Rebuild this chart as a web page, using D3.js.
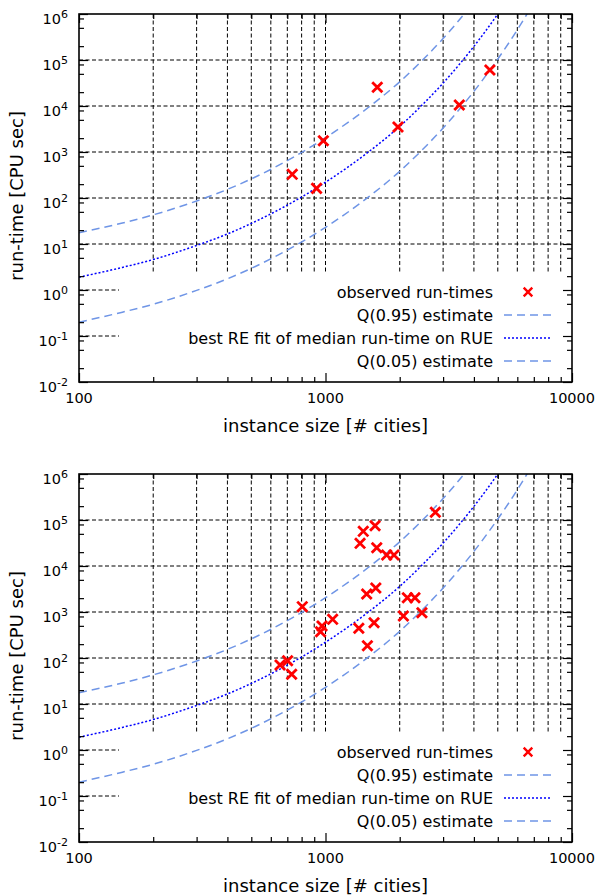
<!DOCTYPE html>
<html>
<head>
<meta charset="utf-8">
<script src="https://cdn.jsdelivr.net/npm/d3@7"></script>
<style>
  body { margin: 0; background: #fff; }
  text { font-family: "DejaVu Sans", Verdana, sans-serif; fill: #000; }
</style>
</head>
<body>
<div id="chart"></div>
<script>
// axis ticks
const xMajor = [100, 1000, 10000];
const xMinor = [200, 300, 400, 500, 600, 700, 800, 900, 2000, 3000, 4000, 5000, 6000, 7000, 8000, 9000];
const yExp = [-2, -1, 0, 1, 2, 3, 4, 5, 6];
const yMinorFactors = [2, 5, 8];

// fitted curves
const fitN = [100, 150, 200, 300, 400, 500, 700, 1000, 1500, 2000, 2500, 3000, 4000, 5000, 6000, 7000];
const medianVals = [1.9, 3.1, 4.6, 9.3, 16.5, 28, 70, 220, 1020, 3600, 11300, 31500, 198000, 1.0e6, 4.3e6, 1.7e7];
const q95Vals = [17.6, 28.6, 43, 86, 154, 260, 650, 2050, 9500, 33500, 105000, 293000, 1.84e6, 9.3e6, 4.0e7, 1.6e8];
const q05Vals = [0.2, 0.33, 0.49, 0.98, 1.75, 2.95, 7.4, 23, 107, 380, 1190, 3320, 20800, 105000, 453000, 1.76e6];

// observed run-times, top panel
const obs1N = [733, 920, 980, 1622, 1968, 3490, 4645];
const obs1T = [327, 162, 1760, 25500, 3490, 10500, 60700];

// observed run-times, bottom panel
const obs2N = [654, 702, 729, 805, 955, 968, 1069, 1365, 1381, 1423, 1469, 1479, 1574, 1589, 1600, 1614, 1771, 1896, 2070, 2148, 2306, 2461, 2790];
const obs2T = [70.5, 87.3, 44.2, 1306, 373, 497, 693, 443, 31100, 56700, 2460, 185, 585, 75200, 3330, 25000, 17300, 17300, 818, 2046, 2046, 966, 146900];

const legendLabels = ["observed run-times", "Q(0.95) estimate", "best RE fit of median run-time on RUE", "Q(0.05) estimate"];

const width = 601, height = 896;
const left = 79, plotW = 493, plotH = 368;
const lightBlue = "#6f95e6";

const svg = d3.select("#chart").append("svg")
    .attr("width", width)
    .attr("height", height);

function drawPanel(idx, top, obsN, obsT) {
  const g = svg.append("g").attr("transform", "translate(" + left + "," + top + ")");

  const x = d3.scaleLog().domain([100, 10000]).range([0, plotW]);
  const y = d3.scaleLog().domain([1e-2, 1e6]).range([plotH, 0]);

  // grid
  let grid = g.append("g")
      .attr("stroke", "#000")
      .attr("stroke-width", 1)
      .attr("stroke-dasharray", "4,2.5");
  grid.selectAll(".vg")
      .data(xMinor)
      .enter().append("line")
      .attr("x1", d => x(d)).attr("x2", d => x(d))
      .attr("y1", 0).attr("y2", plotH);
  grid.selectAll(".vg2")
      .data([1000])
      .enter().append("line")
      .attr("x1", d => x(d)).attr("x2", d => x(d))
      .attr("y1", 0).attr("y2", plotH);
  grid.selectAll(".hg")
      .data(yExp.slice(1, -1))
      .enter().append("line")
      .attr("x1", 0).attr("x2", plotW)
      .attr("y1", d => y(Math.pow(10, d))).attr("y2", d => y(Math.pow(10, d)));

  // opaque key box
  const keyX = 40, keyY = 258;
  g.append("rect")
      .attr("x", keyX).attr("y", keyY)
      .attr("width", plotW - keyX).attr("height", plotH - keyY)
      .attr("fill", "#fff");

  // curves
  g.append("clipPath").attr("id", "clip" + idx)
      .append("rect").attr("width", plotW).attr("height", plotH);

  const line = d3.line()
      .x(d => x(d[0]))
      .y(d => y(d[1]))
      .curve(d3.curveMonotoneX);

  const curves = [
    {vals: q95Vals, color: lightBlue, dash: "8,5"},
    {vals: medianVals, color: "#0000ff", dash: "2,2"},
    {vals: q05Vals, color: lightBlue, dash: "8,5"}
  ];
  g.append("g").attr("clip-path", "url(#clip" + idx + ")")
      .selectAll("path")
      .data(curves)
      .enter().append("path")
      .attr("d", c => line(fitN.map((n, i) => [n, c.vals[i]])))
      .attr("fill", "none")
      .attr("stroke", c => c.color)
      .attr("stroke-width", 1.5)
      .attr("stroke-dasharray", c => c.dash);

  // observed points
  const cross = d3.symbol().type(d3.symbolTimes).size(68);
  g.append("g").selectAll("path")
      .data(obsN.map((n, i) => [n, obsT[i]]))
      .enter().append("path")
      .attr("transform", d => "translate(" + x(d[0]) + "," + y(d[1]) + ")")
      .attr("d", cross)
      .attr("fill", "none")
      .attr("stroke", "#ff0000")
      .attr("stroke-width", 2.8);

  // legend
  const leg = g.append("g");
  const rowY = i => 278 + i * 23;
  leg.selectAll("text")
      .data(legendLabels)
      .enter().append("text")
      .attr("x", 414)
      .attr("y", (d, i) => rowY(i) + 5.5)
      .attr("text-anchor", "end")
      .style("font-size", "16px")
      .text(d => d);
  leg.append("path")
      .attr("transform", "translate(449," + rowY(0) + ")")
      .attr("d", d3.symbol().type(d3.symbolTimes).size(50))
      .attr("fill", "none")
      .attr("stroke", "#ff0000")
      .attr("stroke-width", 2.4);
  [[1, lightBlue, "8,5"], [2, "#0000ff", "2,2"], [3, lightBlue, "8,5"]].forEach(s => {
    leg.append("line")
        .attr("x1", 425).attr("x2", 473)
        .attr("y1", rowY(s[0])).attr("y2", rowY(s[0]))
        .attr("stroke", s[1])
        .attr("stroke-width", 1.5)
        .attr("stroke-dasharray", s[2]);
  });

  // ticks, inward on all four sides
  const yMinor = [];
  yExp.slice(0, -1).forEach(e => yMinorFactors.forEach(f => yMinor.push(f * Math.pow(10, e))));
  const yMaj = yExp.map(e => Math.pow(10, e));

  const tickAxes = [
    [d3.axisBottom(x).tickValues(xMajor).tickSize(-9), plotH],
    [d3.axisBottom(x).tickValues(xMinor).tickSize(-5), plotH],
    [d3.axisTop(x).tickValues(xMajor).tickSize(-9), 0],
    [d3.axisTop(x).tickValues(xMinor).tickSize(-5), 0]
  ];
  tickAxes.forEach(a => {
    g.append("g")
        .attr("transform", "translate(0," + a[1] + ")")
        .call(a[0].tickFormat("").tickSizeOuter(0))
        .call(s => s.select(".domain").remove());
  });
  const yAxes = [
    [d3.axisLeft(y).tickValues(yMaj).tickSize(-9), 0],
    [d3.axisLeft(y).tickValues(yMinor).tickSize(-5), 0],
    [d3.axisRight(y).tickValues(yMaj).tickSize(-9), plotW],
    [d3.axisRight(y).tickValues(yMinor).tickSize(-5), plotW]
  ];
  yAxes.forEach(a => {
    g.append("g")
        .attr("transform", "translate(" + a[1] + ",0)")
        .call(a[0].tickFormat("").tickSizeOuter(0))
        .call(s => s.select(".domain").remove());
  });
  g.selectAll(".tick line").attr("stroke", "#000").attr("stroke-width", 1.2);

  // border
  g.append("rect")
      .attr("width", plotW).attr("height", plotH)
      .attr("fill", "none")
      .attr("stroke", "#000")
      .attr("stroke-width", 1.6);

  // tick labels
  g.selectAll(".xl")
      .data(xMajor)
      .enter().append("text")
      .attr("x", d => x(d))
      .attr("y", plotH + 21)
      .attr("text-anchor", "middle")
      .style("font-size", "14.5px")
      .text(d => d);

  let yl = g.selectAll(".yl")
      .data(yExp)
      .enter().append("text")
      .attr("x", -11)
      .attr("y", d => y(Math.pow(10, d)) + 10)
      .attr("text-anchor", "end")
      .style("font-size", "14.5px");
  yl.append("tspan").text("10");
  yl.append("tspan")
      .attr("dy", -6.5)
      .style("font-size", "11px")
      .text(d => d);

  // axis titles
  g.append("text")
      .attr("x", plotW / 2)
      .attr("y", plotH + 50)
      .attr("text-anchor", "middle")
      .style("font-size", "18px")
      .text("instance size [# cities]");
  g.append("text")
      .attr("transform", "translate(" + (23 - left) + "," + (plotH / 2 - 2) + ") rotate(-90)")
      .attr("text-anchor", "middle")
      .style("font-size", "18px")
      .text("run-time [CPU sec]");
}

drawPanel(0, 14, obs1N, obs1T);
drawPanel(1, 474, obs2N, obs2T);
</script>
</body>
</html>
